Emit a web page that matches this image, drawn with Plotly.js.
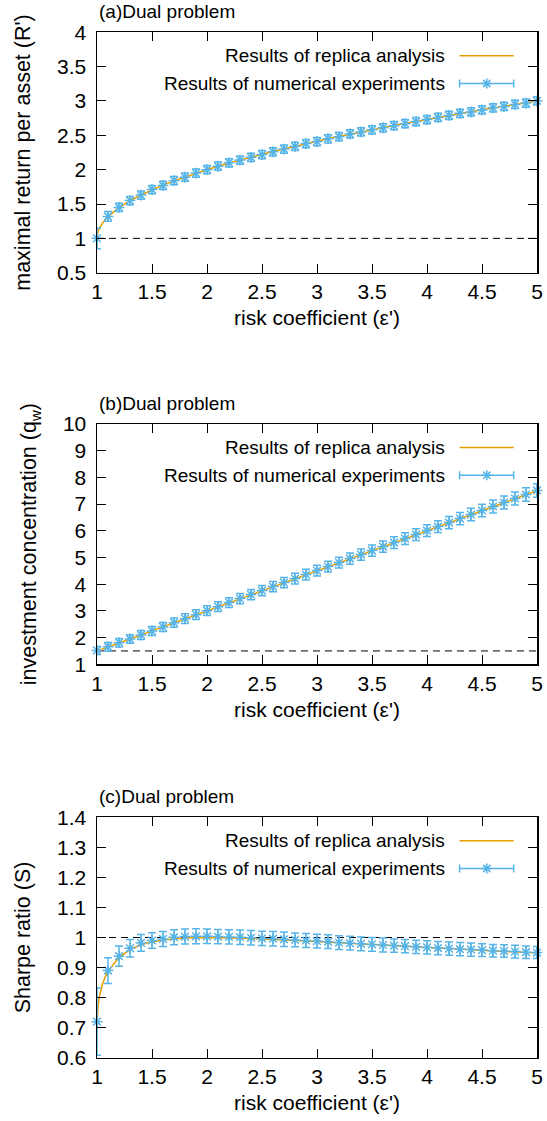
<!DOCTYPE html>
<html>
<head>
<meta charset="utf-8">
<script src="https://cdn.plot.ly/plotly-3.0.1.min.js"></script>
<style>
html,body{margin:0;padding:0;background:#fff;}
#chart{width:547px;height:1121px;}
</style>
</head>
<body>
<div id="chart"></div>
<script>
// ---------- data ----------
const eps = [1.0,1.1,1.2,1.3,1.4,1.5,1.6,1.7,1.8,1.9,2.0,2.1,2.2,2.3,2.4,2.5,2.6,2.7,2.8,2.9,3.0,
             3.1,3.2,3.3,3.4,3.5,3.6,3.7,3.8,3.9,4.0,4.1,4.2,4.3,4.4,4.5,4.6,4.7,4.8,4.9,5.0];

// replica-analysis curves (finer near eps = 1)
const epsTheory = [1.0,1.005,1.01,1.02,1.03,1.05,1.07,1.1,1.2,1.3,1.4,1.5,1.6,1.7,1.8,1.9,2.0,2.1,2.2,2.3,2.4,2.5,2.6,2.7,2.8,2.9,3.0,
             3.1,3.2,3.3,3.4,3.5,3.6,3.7,3.8,3.9,4.0,4.1,4.2,4.3,4.4,4.5,4.6,4.7,4.8,4.9,5.0];
const R_theory = [1.00,1.07,1.10,1.14,1.17,1.22,1.26,1.316,1.447,1.548,1.632,1.707,1.775,1.837,1.894,1.949,2.000,2.049,2.095,2.140,2.183,2.225,2.265,2.304,2.342,2.378,2.414,
             2.449,2.483,2.517,2.549,2.581,2.612,2.643,2.673,2.703,2.732,2.761,2.789,2.817,2.844,2.871,2.897,2.924,2.949,2.975,3.000];
const q_theory = [1.50,1.508,1.515,1.53,1.545,1.575,1.605,1.65,1.80,1.95,2.10,2.25,2.40,2.55,2.70,2.85,3.00,3.15,3.30,3.45,3.60,3.75,3.90,4.05,4.20,4.35,4.50,
             4.65,4.80,4.95,5.10,5.25,5.40,5.55,5.70,5.85,6.00,6.15,6.30,6.45,6.60,6.75,6.90,7.05,7.20,7.35,7.50];
const S_theory = [0.707,0.755,0.774,0.799,0.817,0.845,0.865,0.887,0.934,0.960,0.976,0.986,0.992,0.996,0.998,1.000,1.000,1.000,0.999,0.998,0.996,0.995,0.993,0.992,0.990,0.988,0.986,
             0.984,0.982,0.980,0.978,0.976,0.974,0.972,0.970,0.968,0.966,0.964,0.962,0.961,0.959,0.957,0.955,0.954,0.952,0.950,0.949];

// numerical experiments
const R_exp = [1.00,1.32,1.45,1.55,1.63,1.71,1.77,1.84,1.89,1.95,2.00,2.05,2.10,2.14,2.18,2.22,2.26,2.30,2.34,2.38,2.41,
               2.45,2.48,2.52,2.55,2.58,2.61,2.64,2.67,2.70,2.73,2.76,2.79,2.82,2.84,2.87,2.90,2.92,2.95,2.97,3.00];
const R_err = [0.15,0.07,0.06,0.06,0.06,0.06,0.06,0.06,0.06,0.06,0.06,0.06,0.06,0.06,0.06,0.06,0.06,0.06,0.06,0.06,0.06,
               0.06,0.06,0.06,0.06,0.06,0.06,0.06,0.06,0.06,0.06,0.06,0.06,0.06,0.06,0.06,0.06,0.06,0.06,0.06,0.06];
const q_exp = [1.52,1.66,1.81,1.95,2.10,2.25,2.40,2.56,2.71,2.86,3.01,3.16,3.31,3.46,3.61,3.76,3.91,4.06,4.21,4.36,4.51,
               4.66,4.81,4.96,5.11,5.26,5.41,5.56,5.71,5.86,6.01,6.16,6.31,6.46,6.61,6.76,6.91,7.06,7.21,7.36,7.51];
const q_err = [0.15,0.16,0.16,0.16,0.17,0.17,0.17,0.17,0.18,0.18,0.18,0.18,0.18,0.19,0.19,0.19,0.19,0.19,0.20,0.20,0.20,
               0.20,0.20,0.21,0.21,0.21,0.21,0.22,0.22,0.22,0.22,0.22,0.23,0.23,0.23,0.23,0.24,0.24,0.24,0.25,0.25];
const S_exp = [0.72,0.89,0.938,0.964,0.982,0.990,0.995,1.001,1.003,1.004,1.004,1.003,1.002,1.001,0.999,0.997,0.996,0.994,0.992,0.990,0.988,
               0.986,0.983,0.981,0.979,0.977,0.975,0.973,0.971,0.969,0.967,0.965,0.963,0.961,0.960,0.958,0.956,0.955,0.953,0.951,0.950];
const S_err = [0.112,0.043,0.034,0.029,0.028,0.026,0.025,0.025,0.025,0.025,0.024,0.024,0.024,0.024,0.024,0.024,0.024,0.024,0.023,0.023,0.023,
               0.023,0.023,0.023,0.023,0.023,0.023,0.022,0.022,0.022,0.022,0.022,0.022,0.022,0.022,0.021,0.021,0.021,0.021,0.021,0.020];

const refLevels = [1.0, 1.5, 1.0];          // dashed horizontal reference lines
const panelTitles = ["(a)Dual problem","(b)Dual problem","(c)Dual problem"];
const yTitles = ["maximal return per asset (R')","investment concentration (q<sub>w</sub>)","Sharpe ratio (S)"];
const xTitle = "risk coefficient (ε')";
const yRanges = [[0.5,4],[1,10],[0.6,1.4]];
const yDticks = [0.5,1,0.1];
const legendNames = ["Results of replica analysis","Results of numerical experiments"];

// ---------- style ----------
const ORANGE = "#E69F00", BLUE = "#56B4E9";
const FONT = "Liberation Sans, Arial, Helvetica, sans-serif";
const H = 1121;
const panelsPx = [[32.3,272.7],[424.0,664.3],[817.3,1057.7]];
const domains = panelsPx.map(p => [1 - p[1]/H, 1 - p[0]/H]);

const theoryY = [R_theory, q_theory, S_theory];
const expY = [R_exp, q_exp, S_exp];
const expErr = [R_err, q_err, S_err];

const traces = [];
const layout = {
  width: 547, height: 1121,
  margin: {l: 97, r: 10, t: 0, b: 0},
  paper_bgcolor: "#fff", plot_bgcolor: "#fff",
  showlegend: false,
  font: {family: FONT, color: "#000", size: 21},
  annotations: [], shapes: []
};

for (let i = 0; i < 3; i++) {
  const s = i === 0 ? "" : String(i + 1);
  traces.push({
    x: epsTheory, y: theoryY[i], xaxis: "x" + s, yaxis: "y" + s,
    type: "scatter", mode: "lines", name: legendNames[0],
    line: {color: ORANGE, width: 1.5}, hoverinfo: "skip"
  });
  traces.push({
    x: eps, y: expY[i], xaxis: "x" + s, yaxis: "y" + s,
    type: "scatter", mode: "markers", name: legendNames[1], cliponaxis: false,
    marker: {symbol: "asterisk-open", size: 9, color: BLUE, line: {color: BLUE, width: 1.5}},
    error_y: {type: "data", array: expErr[i], visible: true, color: BLUE, thickness: 1.5, width: 4}
  });

  const axBase = {
    showline: true, linecolor: "#000", linewidth: 1.5, mirror: "allticks",
    ticks: "inside", ticklen: 9, tickwidth: 1, tickcolor: "#000",
    showgrid: false, zeroline: false,
    tickfont: {family: FONT, size: 21, color: "#000"}
  };
  layout["xaxis" + s] = Object.assign({}, axBase, {
    anchor: "y" + s, domain: [0, 1], range: [1, 5], dtick: 0.5, tick0: 1,
    title: {text: xTitle, font: {family: FONT, size: 21}, standoff: 8}
  });
  layout["yaxis" + s] = Object.assign({}, axBase, {
    anchor: "x" + s, domain: domains[i], range: yRanges[i], dtick: yDticks[i], tick0: yRanges[i][0],
    ticklabelstandoff: 5,
    title: {text: yTitles[i], font: {family: FONT, size: 21.5}, standoff: 20}
  });

  const xr = "x" + s + " domain", yr = "y" + s + " domain";
  // dashed reference line
  layout.shapes.push({type: "line", xref: xr, yref: "y" + s, x0: 0, x1: 1, y0: refLevels[i], y1: refLevels[i],
    line: {color: "#000", width: 1, dash: "7px,5px"}, layer: "below"});
  // panel title
  layout.annotations.push({text: panelTitles[i], xref: xr, yref: yr, x: 0, y: 1, xanchor: "left", yanchor: "middle",
    yshift: 21, showarrow: false, font: {family: FONT, size: 19, color: "#000"}});
  // legend texts
  const rowY = [-23.4, -51.2];
  legendNames.forEach((nm, k) => {
    layout.annotations.push({text: nm, xref: xr, yref: yr, x: 0.796, y: 1, xanchor: "right", yanchor: "middle",
      yshift: rowY[k], showarrow: false, font: {family: FONT, size: 19, color: "#000"}});
  });
  const sx0 = 0.824, sx1 = 0.947, sxc = 0.886;
  layout.shapes.push({type: "line", xref: xr, yref: yr, ysizemode: "pixel", yanchor: 1,
    x0: sx0, x1: sx1, y0: rowY[0], y1: rowY[0], line: {color: ORANGE, width: 1.5}});
  layout.shapes.push({type: "line", xref: xr, yref: yr, ysizemode: "pixel", yanchor: 1,
    x0: sx0, x1: sx1, y0: rowY[1], y1: rowY[1], line: {color: BLUE, width: 1.5}});
  [sx0, sx1].forEach(cx => layout.shapes.push({type: "line", xref: xr, yref: yr, ysizemode: "pixel", yanchor: 1,
    x0: cx, x1: cx, y0: rowY[1] - 4, y1: rowY[1] + 4, line: {color: BLUE, width: 1.5}}));
  const c = rowY[1];
  layout.shapes.push({type: "path", xref: xr, yref: yr, xsizemode: "pixel", ysizemode: "pixel", xanchor: sxc, yanchor: 1,
    path: `M-5,${c}H5M0,${c-5}V${c+5}M-3.6,${c-3.6}L3.6,${c+3.6}M-3.6,${c+3.6}L3.6,${c-3.6}`,
    line: {color: BLUE, width: 1.5}});
}

Plotly.newPlot("chart", traces, layout, {staticPlot: true, displayModeBar: false});
</script>
</body>
</html>
